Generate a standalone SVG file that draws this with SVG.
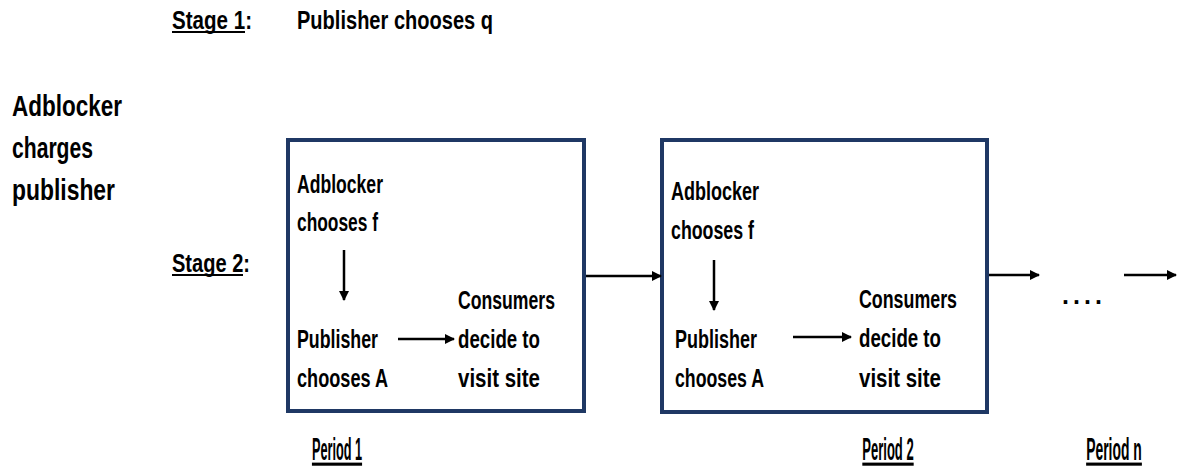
<svg xmlns="http://www.w3.org/2000/svg" width="1177" height="473" viewBox="0 0 1177 473">
<style>
text{font-family:"Liberation Sans",Arial,sans-serif;font-weight:bold;fill:#000}
.b{font-size:25px}
.l{font-size:30px}
.s{font-size:26px}
.p{font-size:31px}
.u{text-decoration:underline}
.ul{stroke:#000;stroke-width:2}
.box{fill:#fff;stroke:#1F3864;stroke-width:4}
.c{stroke:#000;stroke-width:2.5;fill:none}
</style>
<defs>
<marker id="ah" markerWidth="10" markerHeight="10" refX="9" refY="5" orient="auto" markerUnits="userSpaceOnUse">
<path d="M0,0 L10,5 L0,10 Z" fill="#000"/>
</marker>
</defs>
<g id="stage1">
<text class="s" x="172" y="29" textLength="80" lengthAdjust="spacingAndGlyphs">Stage 1:</text>
<line class="ul" x1="172" y1="32" x2="245" y2="32"/>
<text class="s" x="297" y="29" textLength="196" lengthAdjust="spacingAndGlyphs">Publisher chooses q</text>
</g>
<g id="adblocker-charges">
<text class="l" x="12" y="116" textLength="110" lengthAdjust="spacingAndGlyphs">Adblocker</text>
<text class="l" x="12" y="158" textLength="81" lengthAdjust="spacingAndGlyphs">charges</text>
<text class="l" x="12" y="200" textLength="103" lengthAdjust="spacingAndGlyphs">publisher</text>
</g>
<g id="stage2">
<text class="s" x="172" y="272" textLength="78" lengthAdjust="spacingAndGlyphs">Stage 2:</text>
<line class="ul" x1="172" y1="275" x2="243" y2="275"/>
</g>
<g id="period1">
<rect class="box" x="288" y="140" width="296" height="271"/>
<text class="b" x="297" y="193" textLength="86" lengthAdjust="spacingAndGlyphs">Adblocker</text>
<text class="b" x="297" y="231" textLength="81" lengthAdjust="spacingAndGlyphs">chooses f</text>
<text class="b" x="297" y="348" textLength="81" lengthAdjust="spacingAndGlyphs">Publisher</text>
<text class="b" x="297" y="387" textLength="91" lengthAdjust="spacingAndGlyphs">chooses A</text>
<text class="b" x="458" y="309" textLength="97" lengthAdjust="spacingAndGlyphs">Consumers</text>
<text class="b" x="458" y="348" textLength="82" lengthAdjust="spacingAndGlyphs">decide to</text>
<text class="b" x="458" y="387" textLength="82" lengthAdjust="spacingAndGlyphs">visit site</text>
<text class="p u" transform="translate(337,460) scale(0.41,1)" text-anchor="middle">Period 1</text>
</g>
<g id="period2">
<rect class="box" x="662" y="140" width="325" height="272"/>
<text class="b" x="671" y="200" textLength="88" lengthAdjust="spacingAndGlyphs">Adblocker</text>
<text class="b" x="671" y="239" textLength="83" lengthAdjust="spacingAndGlyphs">chooses f</text>
<text class="b" x="675" y="348" textLength="82" lengthAdjust="spacingAndGlyphs">Publisher</text>
<text class="b" x="675" y="387" textLength="89" lengthAdjust="spacingAndGlyphs">chooses A</text>
<text class="b" x="859" y="308" textLength="98" lengthAdjust="spacingAndGlyphs">Consumers</text>
<text class="b" x="859" y="347" textLength="82" lengthAdjust="spacingAndGlyphs">decide to</text>
<text class="b" x="859" y="387" textLength="82" lengthAdjust="spacingAndGlyphs">visit site</text>
<text class="p u" transform="translate(888,460) scale(0.42,1)" text-anchor="middle">Period 2</text>
</g>
<g id="periodn">
<text class="b" x="1062" y="304" textLength="40" lengthAdjust="spacing">....</text>
<text class="p u" transform="translate(1114,460) scale(0.45,1)" text-anchor="middle">Period n</text>
</g>
<g id="connectors">
<line class="c" x1="344" y1="250" x2="344" y2="300" marker-end="url(#ah)"/>
<line class="c" x1="398" y1="339" x2="454" y2="339" marker-end="url(#ah)"/>
<line class="c" x1="714" y1="260" x2="714" y2="310" marker-end="url(#ah)"/>
<line class="c" x1="793" y1="337" x2="851" y2="337" marker-end="url(#ah)"/>
<line class="c" x1="586" y1="276" x2="661" y2="276" marker-end="url(#ah)"/>
<line class="c" x1="989" y1="275" x2="1039" y2="275" marker-end="url(#ah)"/>
<line class="c" x1="1124" y1="275" x2="1176" y2="275" marker-end="url(#ah)"/>
</g>
</svg>
